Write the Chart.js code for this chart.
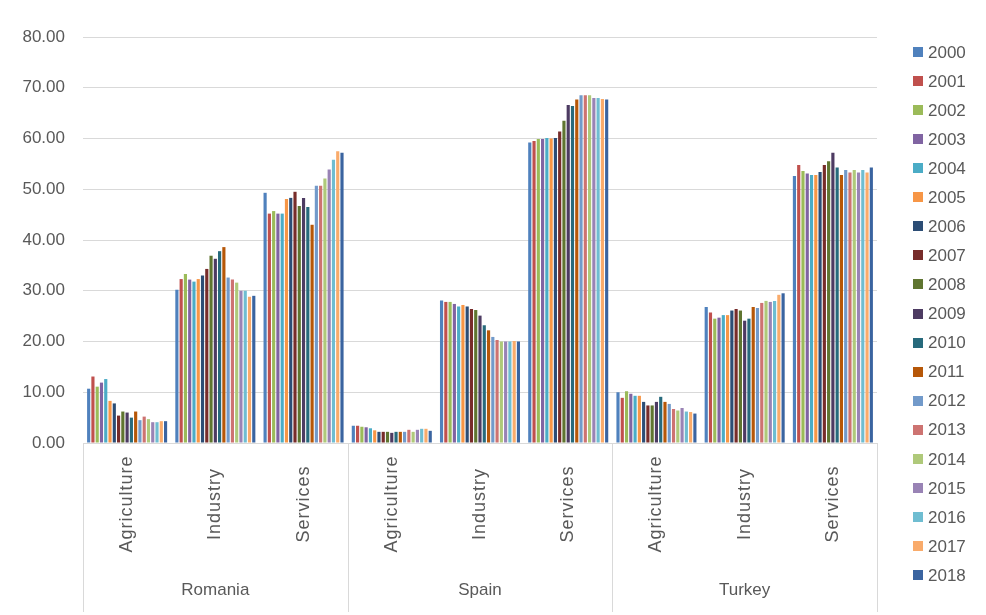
<!DOCTYPE html>
<html>
<head>
<meta charset="utf-8">
<script src="https://cdn.jsdelivr.net/npm/chart.js@4.4.1/dist/chart.umd.min.js"></script>
<style>
  html, body { margin: 0; padding: 0; background: #ffffff; }
  #wrap { width: 986px; height: 615px; position: relative; }
</style>
</head>
<body>
<div id="wrap"><canvas id="c"></canvas></div>
<script>
// Sector shares (%) by country, one value per year 2000-2018
const countries = ['Romania', 'Spain', 'Turkey'];
const sectors = ['Agriculture', 'Industry', 'Services'];
const years = ['2000','2001','2002','2003','2004','2005','2006','2007','2008','2009',
               '2010','2011','2012','2013','2014','2015','2016','2017','2018'];
const yTicks = [0, 10, 20, 30, 40, 50, 60, 70, 80];

const romaniaAgriculture = [10.7, 13.1, 11.1, 11.9, 12.6, 8.3, 7.8, 5.4, 6.2, 6.0, 5.0, 6.2, 4.5, 5.2, 4.7, 4.1, 4.1, 4.3, 4.3];
const romaniaIndustry    = [30.2, 32.3, 33.3, 32.2, 31.8, 32.3, 33.0, 34.3, 36.9, 36.3, 37.8, 38.6, 32.6, 32.2, 31.6, 30.0, 30.0, 28.8, 29.0];
const romaniaServices    = [49.3, 45.2, 45.7, 45.2, 45.2, 48.1, 48.3, 49.5, 46.7, 48.3, 46.5, 43.0, 50.7, 50.7, 52.1, 53.9, 55.8, 57.5, 57.2];
const spainAgriculture   = [3.4, 3.4, 3.2, 3.1, 2.9, 2.5, 2.2, 2.2, 2.2, 2.0, 2.2, 2.2, 2.2, 2.6, 2.2, 2.6, 2.8, 2.8, 2.4];
const spainIndustry      = [28.1, 27.8, 27.8, 27.4, 26.9, 27.2, 26.9, 26.4, 26.2, 25.1, 23.2, 22.2, 20.9, 20.3, 20.0, 20.0, 20.0, 20.1, 20.0];
const spainServices      = [59.2, 59.5, 59.9, 59.9, 60.1, 60.0, 60.1, 61.4, 63.5, 66.6, 66.4, 67.7, 68.5, 68.5, 68.5, 68.0, 68.0, 67.8, 67.7];
const turkeyAgriculture  = [10.0, 8.9, 10.2, 9.7, 9.3, 9.3, 8.1, 7.4, 7.4, 8.1, 9.1, 8.1, 7.7, 6.7, 6.4, 6.9, 6.2, 6.1, 5.8];
const turkeyIndustry     = [26.8, 25.7, 24.5, 24.7, 25.2, 25.2, 26.1, 26.4, 26.1, 24.1, 24.5, 26.8, 26.6, 27.6, 28.0, 27.8, 28.0, 29.2, 29.5];
const turkeyServices     = [52.6, 54.8, 53.6, 53.1, 52.8, 52.8, 53.4, 54.8, 55.5, 57.2, 54.3, 52.8, 53.8, 53.3, 53.8, 53.3, 53.8, 53.3, 54.3];

const yearColors = ['#4f81bd','#c0504d','#9bbb59','#8064a2','#4bacc6','#f79646',
                    '#2c4d75','#772c2a','#5f7530','#4d3b62','#276a7c','#b65708',
                    '#729aca','#cd7371','#afc97a','#9983b5','#6fbdd1','#f9ab6b','#3a64a0'];

// category order: country-major, sector-minor
const groups = [romaniaAgriculture, romaniaIndustry, romaniaServices,
                spainAgriculture, spainIndustry, spainServices,
                turkeyAgriculture, turkeyIndustry, turkeyServices];
const categoryLabels = [];
countries.forEach(c => sectors.forEach(s => categoryLabels.push(c + ' ' + s)));

const datasets = years.map((y, i) => ({
  label: y,
  data: groups.map(g => g[i]),
  backgroundColor: yearColors[i],
  borderWidth: 0,
  barPercentage: 0.74,
  categoryPercentage: 0.92
}));

const FONT = 'Liberation Sans, Arial, sans-serif';
const TEXT = '#595959';
const LINE = '#d9d9d9';

// two-level category axis below the plot plus separators
const axisLabels = {
  id: 'axisLabels',
  afterDraw(chart) {
    const { ctx, chartArea, scales } = chart;
    const x = scales.x;
    const bottom = chartArea.bottom;
    const n = categoryLabels.length;
    const step = (chartArea.right - chartArea.left) / n;
    ctx.save();
    ctx.strokeStyle = LINE;
    ctx.lineWidth = 1;
    ctx.beginPath();
    ctx.moveTo(chartArea.left, Math.round(bottom) + 0.5);
    ctx.lineTo(chartArea.right, Math.round(bottom) + 0.5);
    for (let k = 0; k <= countries.length; k++) {
      const px = Math.round(chartArea.left + k * step * sectors.length) + 0.5;
      ctx.moveTo(px, bottom);
      ctx.lineTo(px, 612);
    }
    ctx.stroke();

    ctx.fillStyle = TEXT;
    ctx.font = '18px ' + FONT;
    ctx.letterSpacing = '1px';
    ctx.textAlign = 'center';
    ctx.textBaseline = 'middle';
    for (let i = 0; i < n; i++) {
      const cx = x.getPixelForValue(i);
      ctx.save();
      ctx.translate(cx, 504);
      ctx.rotate(-Math.PI / 2);
      ctx.fillText(sectors[i % sectors.length], 0, 0);
      ctx.restore();
    }
    ctx.letterSpacing = '0px';
    ctx.font = '17px ' + FONT;
    countries.forEach((c, k) => {
      const cx = (x.getPixelForValue(k * 3) + x.getPixelForValue(k * 3 + 2)) / 2;
      ctx.fillText(c, cx, 590);
    });
    ctx.restore();
  }
};

// year legend at the right
const yearLegend = {
  id: 'yearLegend',
  afterDraw(chart) {
    const { ctx } = chart;
    ctx.save();
    ctx.font = '17px ' + FONT;
    ctx.textBaseline = 'middle';
    ctx.textAlign = 'left';
    chart.data.datasets.forEach((ds, i) => {
      const cy = 52 + i * 29.06;
      ctx.fillStyle = ds.backgroundColor;
      ctx.fillRect(913, Math.round(cy - 5), 10, 10);
      ctx.fillStyle = TEXT;
      ctx.fillText(ds.label, 928, cy + 1);
    });
    ctx.restore();
  }
};

new Chart(document.getElementById('c'), {
  type: 'bar',
  data: { labels: categoryLabels, datasets },
  options: {
    responsive: true,
    maintainAspectRatio: false,
    animation: false,
    layout: { padding: { top: 37, right: 109, bottom: 164, left: 0 } },
    plugins: { legend: { display: false }, tooltip: { enabled: false } },
    scales: {
      x: {
        grid: { display: false },
        border: { display: false },
        ticks: { display: false }
      },
      y: {
        min: yTicks[0],
        max: yTicks[yTicks.length - 1],
        afterBuildTicks(scale) { scale.ticks = yTicks.map(v => ({ value: v })); },
        afterFit(scale) { scale.width = 83; },
        grid: { color: LINE, lineWidth: 1, drawTicks: false },
        border: { display: false },
        ticks: {
          padding: 18,
          color: TEXT,
          font: { family: FONT, size: 17 },
          callback: v => Number(v).toFixed(2)
        }
      }
    }
  },
  plugins: [axisLabels, yearLegend]
});
</script>
</body>
</html>
